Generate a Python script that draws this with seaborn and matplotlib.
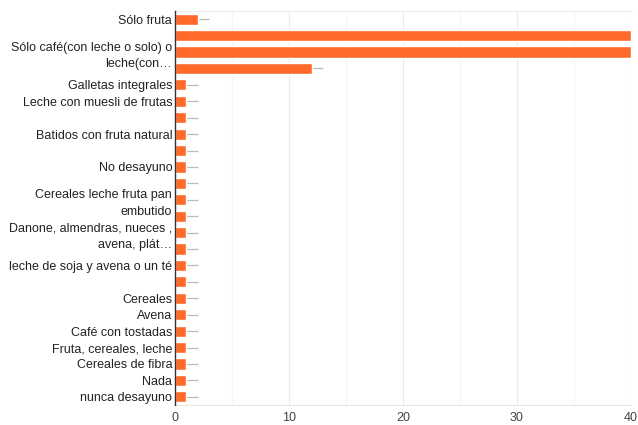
import matplotlib
matplotlib.use("Agg")
import matplotlib.pyplot as plt
import seaborn as sns
import pandas as pd
import numpy as np

labels = [
    "Sólo fruta", "", "Sólo café(con leche o solo) o\nleche(con…", "",
    "Galletas integrales", "Leche con muesli de frutas", "", "Batidos con fruta natural",
    "", "No desayuno", "", "Cereales leche fruta pan\nembutido",
    "", "Danone, almendras, nueces ,\navena, plát…", "", "leche de soja y avena o un té",
    "", "Cereales", "Avena", "Café con tostadas",
    "Fruta, cereales, leche", "Cereales de fibra", "Nada", "nunca desayuno",
]
values = [2, 40, 40, 12, 1, 1, 1, 1, 1, 1, 1, 1, 1, 1, 1, 1, 1, 1, 1, 1, 1, 1, 1, 1]
x_ticks = [0, 10, 20, 30, 40]

sns.set_theme(style="white")
plt.rcParams['font.family'] = ['Liberation Sans', 'DejaVu Sans']

df = pd.DataFrame({"id": [f"c{i}" for i in range(len(values))], "value": values})

fig = plt.figure(figsize=(6.38, 4.25), dpi=100)
ax = fig.add_axes([175/638, 1-405/425, (631-175)/638, (405-11)/425])

ax.set_xlim(0, 40)
for v in np.arange(5, 40, 10):
    ax.axvline(v, color="#f5f5f5", lw=0.8, zorder=0)
for v in x_ticks[1:]:
    ax.axvline(v, color="#ebebeb", lw=0.8, zorder=0)

sns.barplot(data=df, x="value", y="id", color="#ff6a2a", saturation=1,
            width=0.68, ax=ax, zorder=2, orient="h")
ypos = np.arange(len(values))
ax.hlines(ypos, [v for v in values], [v + 1 for v in values], color="#bbbbbb", lw=0.9, zorder=1, clip_on=True)

ax.set_ylim(len(values) - 0.5, -0.5)
ax.set_yticks(ypos)
ax.set_yticklabels(labels, fontsize=9.0, color="#222222", linespacing=1.5)
ax.set_xticks(x_ticks)
ax.set_xticklabels([str(t) for t in x_ticks], fontsize=9.0, color="#444444")
ax.tick_params(axis="y", length=0, pad=2)
ax.tick_params(axis="x", length=0, pad=5)
ax.set_xlabel("")
ax.set_ylabel("")
ax.spines["right"].set_visible(False)
ax.spines["top"].set_color("#f0f0f0")
ax.spines["top"].set_linewidth(0.8)
ax.spines["bottom"].set_color("#e6e6e6")
ax.spines["bottom"].set_linewidth(0.8)
ax.spines["left"].set_color("#333333")
ax.spines["left"].set_linewidth(1.0)
ax.spines["left"].set_zorder(5)

fig.savefig("out.png", dpi=100)
